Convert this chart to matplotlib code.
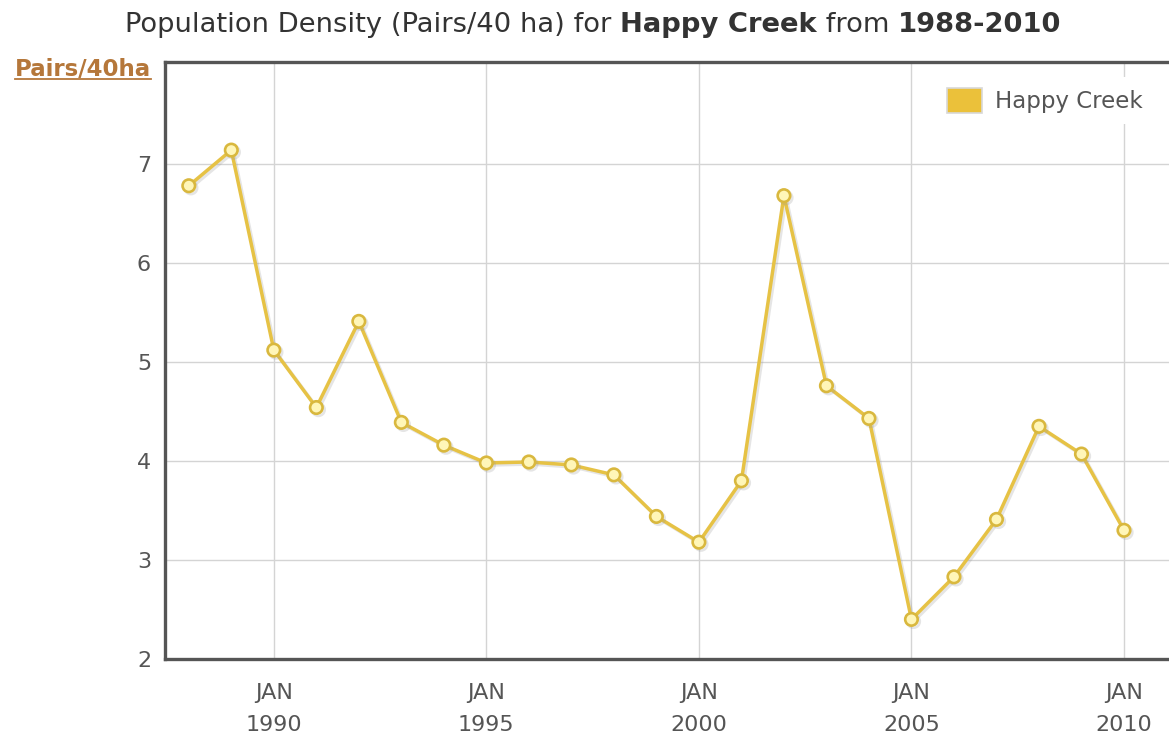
import matplotlib
matplotlib.use("Agg")
import matplotlib.pyplot as plt
import matplotlib.patheffects as pe
from matplotlib.patches import Patch
from matplotlib.lines import Line2D

years = list(range(1988, 2011))
density = [6.78, 7.14, 5.12, 4.54, 5.41, 4.39, 4.16, 3.98, 3.99, 3.96, 3.86, 3.44,
           3.18, 3.80, 6.68, 4.76, 4.43, 2.40, 2.83, 3.41, 4.35, 4.07, 3.30]
tick_years = [1990, 1995, 2000, 2005, 2010]
tick_labels = ["JAN\n" + str(y) for y in tick_years]
y_ticks = [2, 3, 4, 5, 6, 7]
series_name = "Happy Creek"

W, H = 1169, 739
line_col = "#e6c245"
frame_col = "#555555"
text_col = "#555555"

fig = plt.figure(figsize=(W / 100, H / 100), dpi=100)
ax = fig.add_axes([165 / W, 80 / H, 1010 / W, 597 / H])

ax.plot(years, density, color=line_col, lw=2.5, marker="o", markersize=9,
        markerfacecolor="#fff6b8", markeredgecolor="#d9b83e", markeredgewidth=1.9,
        zorder=3,
        path_effects=[pe.SimpleLineShadow(offset=(1.5, -1.5), shadow_color="#999999", alpha=0.25),
                      pe.Normal()])

ax.set_xlim(1987.44, 2011.2)
ax.set_ylim(2, 8.03)
ax.set_xticks(tick_years)
ax.set_xticklabels(tick_labels, linespacing=1.75)
ax.set_yticks(y_ticks)
ax.tick_params(axis="x", length=0, pad=17, labelsize=16, labelcolor=text_col)
ax.tick_params(axis="y", length=0, pad=10, labelsize=16, labelcolor=text_col)
ax.grid(True, color="#d4d4d4", lw=1)
ax.set_axisbelow(True)
for side in ["left", "bottom", "top"]:
    ax.spines[side].set_color(frame_col)
    ax.spines[side].set_linewidth(2.4)
ax.spines["right"].set_visible(False)

handle = Patch(facecolor="#ebc13a", edgecolor="#d8d8d8", lw=1.2)
leg = ax.legend([handle], [series_name], loc="upper left",
                bbox_to_anchor=(925 / W, (H - 66) / H), bbox_transform=fig.transFigure,
                fontsize=16.5, frameon=True, fancybox=False, framealpha=1,
                facecolor="white", edgecolor="none", borderpad=0.45,
                handlelength=1.55, handleheight=1.35, handletextpad=0.55)
for t in leg.get_texts():
    t.set_color(text_col)

# title with bold pieces
renderer = fig.canvas.get_renderer()
pieces = [("Population Density (Pairs/40 ha) for ", "normal"),
          ("Happy Creek", "bold"),
          (" from ", "normal"),
          ("1988-2010", "bold")]
texts = []
for s, w in pieces:
    texts.append(fig.text(0, (H - 32) / H, s, fontsize=19.7, fontweight=w,
                          color="#333333", ha="left", va="baseline"))
widths = [t.get_window_extent(renderer).width for t in texts]
x = 593.5 - sum(widths) / 2
for t, w in zip(texts, widths):
    t.set_x(x / W)
    x += w

ylab = fig.text(15 / W, (H - 76) / H, "Pairs/40ha", fontsize=16.5, fontweight="bold",
                color="#b5773a", ha="left", va="baseline")
bb = ylab.get_window_extent(renderer)
fig.add_artist(Line2D([bb.x0 / W, bb.x1 / W], [(H - 79) / H, (H - 79) / H],
                      transform=fig.transFigure, color="#b5773a", lw=1.3))

fig.savefig("out.png", dpi=100, facecolor="white")
